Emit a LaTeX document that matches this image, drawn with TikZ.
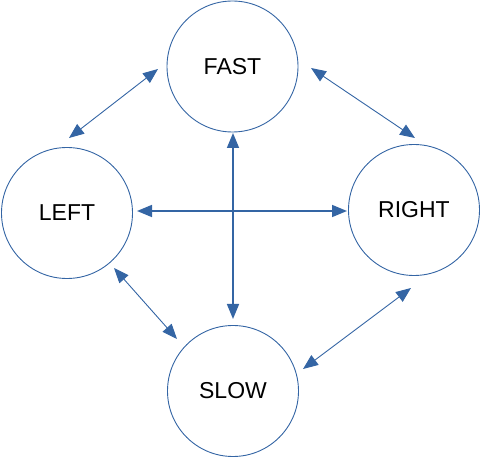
\documentclass[tikz,border=0pt]{standalone}
\usepackage{fontspec}
\setmainfont{Liberation Sans}
\usetikzlibrary{arrows.meta}
\definecolor{lblue}{HTML}{3465A4}
\begin{document}
\begin{tikzpicture}[x=1pt,y=-1pt,
  state/.style={circle,draw=lblue,line width=0.9pt,minimum size=131pt,inner sep=0pt,font=\fontsize{23}{25}\selectfont},
  thick arrow/.style={lblue,line width=1.6pt,{Triangle[length=15pt,width=12pt]}-{Triangle[length=15pt,width=12pt]}},
  thin arrow/.style={lblue,line width=0.9pt,{Triangle[length=15pt,width=12pt]}-{Triangle[length=15pt,width=12pt]}}]
\useasboundingbox (0,0) rectangle (480,457);
\node[state] (fast) at (232.5,66.5) {FAST};
\node[state] (left) at (67,213) {LEFT};
\node[state] (right) at (414,210) {RIGHT};
\node[state] (slow) at (233,391) {SLOW};
\coordinate (fl1) at (158,69);
\coordinate (fl2) at (69,138);
\coordinate (fr1) at (311,68);
\coordinate (fr2) at (415,138);
\coordinate (v1) at (233,133);
\coordinate (v2) at (233,319);
\coordinate (h1) at (137,211);
\coordinate (h2) at (347,211);
\coordinate (ls1) at (114,268);
\coordinate (ls2) at (177,339);
\coordinate (rs1) at (411,288);
\coordinate (rs2) at (303,369);
\draw[thin arrow] (fl1) -- (fl2);
\draw[thin arrow] (fr1) -- (fr2);
\draw[thick arrow] (v1) -- (v2);
\draw[thick arrow] (h1) -- (h2);
\draw[thin arrow] (ls1) -- (ls2);
\draw[thin arrow] (rs1) -- (rs2);
\end{tikzpicture}
\end{document}
